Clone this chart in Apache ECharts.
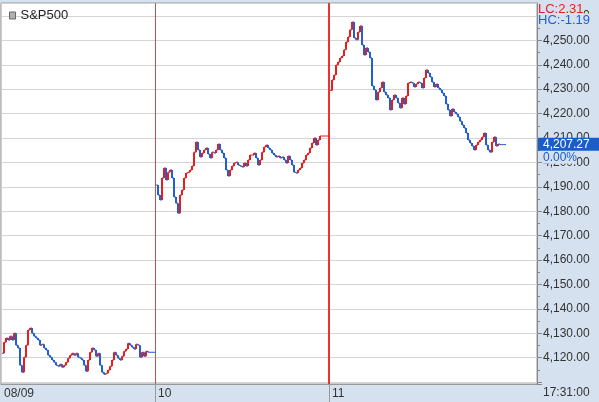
<!DOCTYPE html>
<html><head><meta charset="utf-8">
<script src="https://cdn.jsdelivr.net/npm/echarts@6/dist/echarts.min.js"></script>
<style>html,body{margin:0;padding:0;background:#fff}#c{width:599px;height:402px}</style>
</head><body><div id="c"></div>
<script>
// ---- data ----
const seriesName = 'S&P500';
const dayLabels = ['08/09', '10', '11'];
const day1 = [
  4121.8, 4126.3, 4128.0, 4127.2, 4128.8, 4127.2, 4130.0, 4125.1, 4123.9, 4116.9,
  4114.0, 4120.2, 4125.1, 4131.3, 4132.1, 4130.0, 4128.8, 4128.0, 4127.2, 4125.1,
  4125.5, 4123.9, 4123.1, 4121.0, 4120.2, 4119.0, 4118.1, 4116.9, 4116.5, 4117.3,
  4116.1, 4116.9, 4118.1, 4119.8, 4121.0, 4121.8, 4121.0, 4121.8, 4120.2, 4119.8,
  4119.0, 4116.9, 4114.4, 4119.0, 4122.2, 4123.9, 4123.1, 4120.6, 4121.8, 4116.9,
  4114.0, 4113.2, 4113.6, 4114.9, 4116.5, 4119.0, 4122.2, 4121.0, 4119.8, 4119.0,
  4120.6, 4122.6, 4123.5, 4125.9, 4125.1, 4124.3, 4123.5, 4125.5, 4125.1, 4120.2,
  4122.2, 4120.6, 4122.6, 4122.2, 4122.2, 4122.2, 4122.2
];
const day2 = [
  4190.7, 4186.6, 4184.6, 4193.6, 4197.7, 4192.8, 4196.0, 4196.9, 4193.6, 4185.8,
  4183.3, 4179.2, 4186.6, 4188.7, 4193.6, 4195.6, 4196.0, 4196.9, 4198.5, 4204.2,
  4208.3, 4205.1, 4202.2, 4203.8, 4205.1, 4205.9, 4203.4, 4201.8, 4204.2, 4203.8,
  4205.1, 4207.5, 4205.1, 4203.8, 4201.8, 4196.9, 4194.4, 4196.9, 4198.5, 4199.7,
  4200.1, 4198.9, 4198.5, 4198.1, 4199.7, 4198.5, 4201.0, 4203.0, 4203.0, 4203.8,
  4201.8, 4198.9, 4201.0, 4204.2, 4206.3, 4207.1, 4205.9, 4205.1, 4203.8, 4203.0,
  4202.2, 4202.6, 4201.8, 4202.2, 4201.0, 4199.7, 4202.6, 4201.0, 4198.9, 4196.0,
  4195.6, 4196.9, 4197.7, 4199.7, 4201.0, 4203.0, 4203.8, 4205.9, 4207.9, 4210.0,
  4207.1, 4209.2, 4210.8, 4210.8, 4210.8, 4210.8, 4210.8
];
const day3 = [
  4229.5, 4233.8, 4235.8, 4239.9, 4241.1, 4242.8, 4243.6, 4246.1, 4249.3, 4251.4,
  4254.3, 4257.5, 4251.0, 4250.2, 4253.4, 4255.9, 4248.1, 4244.0, 4246.9, 4245.2,
  4242.8, 4231.3, 4229.7, 4225.6, 4228.8, 4230.5, 4232.9, 4228.8, 4227.6, 4226.4,
  4221.5, 4225.6, 4227.6, 4226.4, 4224.3, 4222.3, 4226.4, 4223.9, 4227.2, 4232.5,
  4232.9, 4232.5, 4230.9, 4232.1, 4232.9, 4232.5, 4230.5, 4234.6, 4237.9, 4236.6,
  4235.0, 4232.9, 4230.9, 4232.1, 4230.5, 4229.7, 4228.4, 4227.2, 4223.9, 4221.5,
  4219.0, 4221.9, 4220.6, 4219.8, 4218.6, 4216.9, 4215.3, 4214.1, 4212.0, 4209.2,
  4207.9, 4206.7, 4205.1, 4207.1, 4208.3, 4209.2, 4210.4, 4212.0, 4207.1, 4205.1,
  4204.2, 4208.3, 4210.4, 4206.7, 4207.5, 4207.27, 4207.27, 4207.27
];
const totalSlots = 268;
const lastPrice = 4207.27;
const changeText = '0.00%';
const lcText = 'LC:2.31';
const hcText = 'HC:-1.19';
const timeText = '17:31:00';
const yMin = 4109.2, yMax = 4265.3;

// ---- build ----
const RED = '#e81e1e', BLUE = '#1f5fd6', BAND = '#d5e1ef';
const sepStyles = [{ color: '#c85050', width: 1 }, { color: '#f03030', width: 2 }];
const days = [day1, day2, day3];
const dayStart = [];
const pts = [];
let idx = 0;
days.forEach(d => {
  dayStart.push(idx);
  d.forEach((v, j) => { pts.push([idx, v, j > 0 ? d[j - 1] : v]); idx++; });
});
let dir = -1;
pts.forEach(p => { if (p[1] > p[2]) dir = 1; else if (p[1] < p[2]) dir = -1; p.push(dir); });
const cats = Array.from({length: totalSlots}, (_, i) => String(i));
const sepData = dayStart.filter(i => i > 0).map((i, k) => [i, yMin, k]);

function fmt(v, dec) {
  const s = v.toFixed(dec);
  const parts = s.split('.');
  parts[0] = parts[0].replace(/\B(?=(\d{3})+(?!\d))/g, ',');
  return parts.join('.');
}
const isTen = v => Math.abs(v - Math.round(v / 10) * 10) < 1e-6;

const chart = echarts.init(document.getElementById('c'));
chart.setOption({
  animation: false,
  backgroundColor: BAND,
  grid: { left: 1, right: 62, top: 3, bottom: 18, show: true, backgroundColor: '#fff', borderColor: '#999', borderWidth: 1 },
  legend: {
    left: 4, top: 4, icon: 'rect', itemWidth: 6, itemHeight: 7, itemGap: 4,
    data: [{ name: seriesName, itemStyle: { color: '#b0b0b0', borderColor: '#666', borderWidth: 1 } }],
    textStyle: { fontSize: 13, color: '#222', fontFamily: 'Liberation Sans' }
  },
  xAxis: {
    type: 'category', data: cats, boundaryGap: true,
    axisLine: { show: true, lineStyle: { color: '#999' } },
    axisTick: { show: false },
    axisLabel: {
      show: true, interval: i => dayStart.indexOf(i) >= 0,
      formatter: (val, i) => { const k = dayStart.indexOf(Number(val)); return k >= 0 ? dayLabels[k] : ''; },
      align: 'left', margin: 4, padding: [0, 0, 0, 2], color: '#333', fontSize: 12, fontFamily: 'Liberation Sans'
    },
    splitLine: { show: false }
  },
  yAxis: {
    type: 'value', position: 'right', min: yMin, max: yMax, splitNumber: 15,
    axisLine: { show: true, lineStyle: { color: '#888' } },
    axisTick: { show: true, length: 5, lineStyle: { color: '#888' } },
    minorTick: { show: true, splitNumber: 2, length: 3, lineStyle: { color: '#888' } },
    splitLine: { show: true, lineStyle: { color: '#d4d4d4' } },
    axisLabel: {
      margin: 6, color: '#333', fontSize: 12, fontFamily: 'Liberation Sans',
      showMinLabel: false, showMaxLabel: false,
      formatter: v => (isTen(v) && v > 4115) ? fmt(v, 2) : ''
    }
  },
  series: [{
    name: 'sep', type: 'custom', data: sepData, encode: { x: 0, y: 1 }, silent: true, z: 1, clip: false,
    renderItem: (params, api) => {
      const p = api.coord([api.value(0), api.value(1)]);
      const w = api.size([1, 0])[0];
      const cs = params.coordSys;
      const st = sepStyles[api.value(2)];
      const x = Math.round(p[0] - w / 2) + (st.width % 2 ? 0.5 : 0);
      return { type: 'group', children: [
        { type: 'line', shape: { x1: x, y1: cs.y, x2: x, y2: cs.y + cs.height }, style: { stroke: st.color, lineWidth: st.width } },
        { type: 'line', shape: { x1: Math.round(p[0] - w / 2) + 0.5, y1: cs.y + cs.height, x2: Math.round(p[0] - w / 2) + 0.5, y2: cs.y + cs.height + 18 }, style: { stroke: '#999', lineWidth: 1 } }
      ] };
    }
  }, {
    name: seriesName, type: 'custom', data: pts, encode: { x: 0, y: 1 }, z: 2,
    itemStyle: { color: '#b0b0b0' },
    renderItem: (params, api) => {
      const i = api.value(0), v = api.value(1), pv = api.value(2), d = api.value(3);
      const color = d > 0 ? RED : BLUE;
      const p = api.coord([i, v]);
      const q = api.coord([i, pv]);
      const w = api.size([1, 0])[0];
      return {
        type: 'group',
        children: [
          { type: 'line', shape: { x1: p[0], y1: p[1], x2: p[0] + w, y2: p[1] }, style: { stroke: color, lineWidth: 1 } },
          { type: 'line', shape: { x1: p[0], y1: q[1], x2: p[0], y2: p[1] }, style: { stroke: color, lineWidth: 2 } }
        ]
      };
    }
  }]
});

const py = chart.convertToPixel({ yAxisIndex: 0 }, lastPrice);
const axisX = chart.getWidth() - 62;
chart.setOption({
  graphic: [
    { type: 'rect', shape: { x: axisX + 1, y: py - 7, width: 62, height: 13 }, style: { fill: '#1a5cc8' }, z: 100 },
    { type: 'text', x: axisX + 6, y: py, style: { text: fmt(lastPrice, 2), fill: '#fff', font: '12px "Liberation Sans"', verticalAlign: 'middle' }, z: 101 },
    { type: 'text', x: axisX + 6, y: py + 13, style: { text: changeText, fill: '#1a5cc8', font: '12px "Liberation Sans"', verticalAlign: 'middle', backgroundColor: BAND }, z: 101 },
    { type: 'text', x: axisX + 1, y: 9, style: { text: lcText, fill: RED, font: '13px "Liberation Sans"', verticalAlign: 'middle', backgroundColor: BAND }, z: 101 },
    { type: 'text', x: axisX + 1, y: 20, style: { text: hcText, fill: '#1f5fd6', font: '13px "Liberation Sans"', verticalAlign: 'middle', backgroundColor: BAND }, z: 101 },
    { type: 'text', x: axisX + 6, y: 393, style: { text: timeText, fill: '#333', font: '12px "Liberation Sans"', verticalAlign: 'middle' }, z: 101 }
  ]
});
</script>
</body></html>
